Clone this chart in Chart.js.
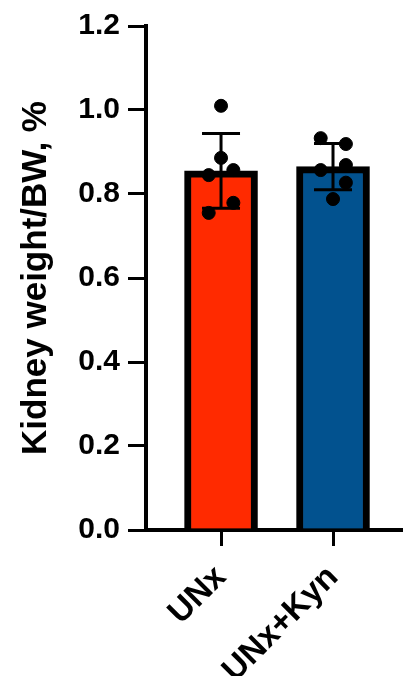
<!DOCTYPE html>
<html>
<head>
<meta charset="utf-8">
<script src="https://cdn.jsdelivr.net/npm/chart.js@4"></script>
<style>
  html, body { margin: 0; padding: 0; background: #fff; }
  #wrap { width: 403px; height: 676px; }
</style>
</head>
<body>
<div id="wrap"><canvas id="myChart" width="403" height="676"></canvas></div>
<script>
var categories = ['UNx', 'UNx+Kyn'];
var meanValues = [0.855, 0.865];
var sdValues = [0.089, 0.055];
var unxPoints = [1.010, 0.886, 0.845, 0.857, 0.779, 0.755];
var kynPoints = [0.933, 0.919, 0.857, 0.869, 0.827, 0.788];
var yTicks = [0, 0.2, 0.4, 0.6, 0.8, 1.0, 1.2];

// horizontal spread of the dots inside each bar
var unxSpread = [0, 0, -0.11, 0.11, 0.11, -0.11];
var kynSpread = [-0.11, 0.115, -0.11, 0.115, 0.115, 0];

var barColors = ['#FF2A00', '#02528F'];
var font = 'Liberation Sans, Arial, sans-serif';

var errorBars = {
    id: 'errorBars',
    afterDatasetDraw: function(chart, args) {
        if (args.index !== 0) return;
        var c = chart.ctx, x = chart.scales.x, y = chart.scales.y;
        c.save();
        c.strokeStyle = '#000';
        c.lineWidth = 3;
        meanValues.forEach(function(m, i) {
            var px = x.getPixelForValue(i);
            var top = y.getPixelForValue(m + sdValues[i]);
            var bot = y.getPixelForValue(m - sdValues[i]);
            c.beginPath();
            c.moveTo(px, top); c.lineTo(px, bot);
            c.moveTo(px - 19, top); c.lineTo(px + 19, top);
            c.moveTo(px - 19, bot); c.lineTo(px + 19, bot);
            c.stroke();
        });
        c.restore();
    }
};

var ctx = document.getElementById('myChart').getContext('2d');
var myChart = new Chart(ctx, {
    type: 'bar',
    data: {
        datasets: [{
            type: 'bar',
            data: meanValues.map(function(v, i) { return {x: i, y: v}; }),
            backgroundColor: barColors,
            borderColor: '#000',
            borderWidth: 7,
            borderSkipped: 'bottom',
            barThickness: 73,
            order: 2
        }, {
            type: 'scatter',
            data: unxPoints.map(function(v, j) { return {x: 0 + unxSpread[j], y: v}; })
                .concat(kynPoints.map(function(v, j) { return {x: 1 + kynSpread[j], y: v}; })),
            backgroundColor: '#000',
            borderColor: '#000',
            pointRadius: 6.5,
            order: 1
        }]
    },
    options: {
        responsive: false,
        animation: false,
        layout: { autoPadding: false, padding: { top: 26, right: 0, left: 0, bottom: 0 } },
        plugins: {
            legend: { display: false },
            tooltip: { enabled: false }
        },
        scales: {
            x: {
                type: 'linear',
                offset: false,
                min: -0.67,
                max: 1.625,
                afterBuildTicks: function(s) {
                    s.ticks = categories.map(function(c, i) { return {value: i}; });
                },
                afterFit: function(s) { s.height = 146; s.paddingRight = 0; },
                border: { color: '#000', width: 4 },
                grid: { offset: false, drawOnChartArea: false, color: '#000', lineWidth: 3, tickLength: 16 },
                ticks: {
                    autoSkip: false,
                    maxRotation: 45,
                    minRotation: 45,
                    padding: 12,
                    color: '#000',
                    font: { family: font, size: 33, weight: 'bold' },
                    callback: function(v) { return categories[v]; }
                }
            },
            y: {
                min: 0,
                max: 1.2,
                afterBuildTicks: function(s) {
                    s.ticks = yTicks.map(function(v) { return {value: v}; });
                },
                afterFit: function(s) { s.width = 146; },
                border: { color: '#000', width: 4 },
                grid: { drawOnChartArea: false, color: '#000', lineWidth: 3, tickLength: 18 },
                ticks: {
                    padding: 8,
                    color: '#000',
                    font: { family: font, size: 30, weight: 'bold' },
                    callback: function(v) { return v.toFixed(1); }
                },
                title: {
                    display: true,
                    text: 'Kidney weight/BW, %',
                    color: '#000',
                    padding: { top: 15, bottom: 0 },
                    font: { family: font, size: 35, weight: 'bold' }
                }
            }
        }
    },
    plugins: [errorBars]
});
</script>
</body>
</html>
